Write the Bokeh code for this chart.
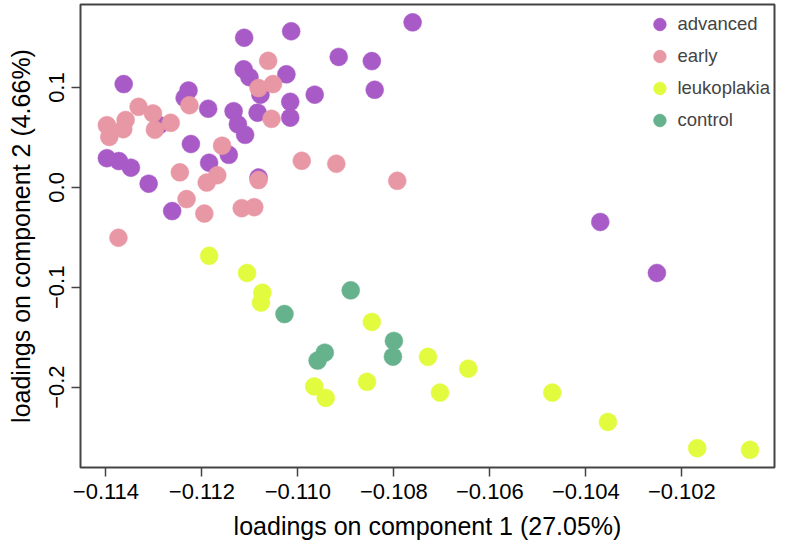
from bokeh.plotting import figure
from bokeh.models import ColumnDataSource, FixedTicker, Legend, LegendItem, Range1d
from bokeh.embed import file_html
from bokeh.resources import INLINE

# ---- data ----
adv_x = [-0.11112, -0.11014, -0.11363, -0.11228, -0.11236, -0.11187, -0.11113, -0.11101,
         -0.11078, -0.11024, -0.10915, -0.10846, -0.10840, -0.10965, -0.11016, -0.11016,
         -0.11134, -0.11084, -0.11125, -0.11110, -0.11223, -0.11144, -0.11185, -0.11398,
         -0.11373, -0.11348, -0.11311, -0.11262, -0.11082, -0.11289, -0.10761, -0.10370,
         -0.10252]
adv_y = [0.1499, 0.1564, 0.1035, 0.0971, 0.0896, 0.0788, 0.1183, 0.1104,
         0.0929, 0.1133, 0.1307, 0.1265, 0.0978, 0.0929, 0.0857, 0.0699,
         0.0764, 0.0748, 0.0632, 0.0527, 0.0435, 0.0326, 0.0247, 0.0293,
         0.0264, 0.0198, 0.0037, -0.0237, 0.0099, 0.0623, 0.1653, -0.0346,
         -0.0857]

early_x = [-0.11062, -0.11082, -0.11052, -0.11055, -0.11226, -0.11332, -0.11302, -0.11265,
           -0.11298, -0.11398, -0.11359, -0.11364, -0.11393, -0.11158, -0.10992, -0.10920,
           -0.11246, -0.11190, -0.11168, -0.11082, -0.11232, -0.11195, -0.11117, -0.11091,
           -0.11374, -0.10793]
early_y = [0.1268, 0.0995, 0.1035, 0.0687, 0.0823, 0.0807, 0.0741, 0.0647,
           0.0578, 0.0623, 0.0675, 0.0583, 0.0506, 0.0418, 0.0267, 0.0237,
           0.0151, 0.0049, 0.0122, 0.0074, -0.0117, -0.0262, -0.0208, -0.0198,
           -0.0504, 0.0066]

leuko_x = [-0.11185, -0.11106, -0.11074, -0.11077, -0.10846, -0.10966, -0.10942, -0.10856,
           -0.10729, -0.10645, -0.10704, -0.10470, -0.10354, -0.10168, -0.10058]
leuko_y = [-0.0685, -0.0857, -0.1054, -0.1153, -0.1347, -0.1993, -0.2108, -0.1947,
           -0.1697, -0.1815, -0.2055, -0.2055, -0.2349, -0.2612, -0.2628]

ctrl_x = [-0.10890, -0.11028, -0.10944, -0.10959, -0.10800, -0.10802]
ctrl_y = [-0.1031, -0.1268, -0.1655, -0.1734, -0.1537, -0.1695]

groups = ["advanced", "early", "leukoplakia", "control"]
colors = ["#A85BC6", "#E897A4", "#E2FB3F", "#66B28D"]

x_ticks = [-0.114, -0.112, -0.110, -0.108, -0.106, -0.104, -0.102]
x_tick_labels = ["\u22120.114", "\u22120.112", "\u22120.110", "\u22120.108",
                 "\u22120.106", "\u22120.104", "\u22120.102"]
y_ticks = [-0.2, -0.1, 0.0, 0.1]
y_tick_labels = ["\u22120.2", "\u22120.1", "0.0", "0.1"]

x_label = "loadings on component 1 (27.05%)"
y_label = "loadings on component 2 (4.66%)"

FONT = "Liberation Sans"

p = figure(output_backend="svg", toolbar_location=None,
           width=776, height=542,
           min_border_left=80, min_border_right=2,
           min_border_top=4, min_border_bottom=74,
           x_range=Range1d(-0.11453, -0.10007),
           y_range=Range1d(-0.2805, 0.1832))

p.xgrid.visible = False
p.ygrid.visible = False
p.outline_line_color = "#444444"
p.outline_line_width = 2
p.background_fill_color = "white"
p.border_fill_color = "white"

series = [(adv_x, adv_y), (early_x, early_y), (leuko_x, leuko_y), (ctrl_x, ctrl_y)]
renderers = []
for (xs, ys), c in zip(series, colors):
    src = ColumnDataSource(dict(x=xs, y=ys))
    r = p.scatter("x", "y", source=src, size=18, fill_color=c, line_color=c,
                  line_width=0.5, marker="circle")
    renderers.append(r)

for ax in (p.xaxis[0], p.yaxis[0]):
    ax.axis_line_color = None
    ax.major_tick_in = 0
    ax.major_tick_out = 9
    ax.major_tick_line_color = "#444444"
    ax.major_tick_line_width = 1.5
    ax.minor_tick_line_color = None
    ax.major_label_text_font = FONT
    ax.major_label_text_font_size = "22px"
    ax.major_label_text_color = "black"
    ax.axis_label_text_font = FONT
    ax.axis_label_text_font_size = "25px"
    ax.axis_label_text_font_style = "normal"
    ax.axis_label_text_color = "black"

p.xaxis[0].ticker = FixedTicker(ticks=x_ticks)
p.yaxis[0].ticker = FixedTicker(ticks=y_ticks)
p.xaxis[0].major_label_overrides = dict(zip(x_ticks, x_tick_labels))
p.yaxis[0].major_label_overrides = dict(zip(y_ticks, y_tick_labels))
p.yaxis[0].major_label_orientation = "vertical"
p.xaxis[0].axis_label = x_label
p.yaxis[0].axis_label = y_label
p.xaxis[0].major_label_standoff = 7
p.yaxis[0].major_label_standoff = 7
p.xaxis[0].axis_label_standoff = 10
p.yaxis[0].axis_label_standoff = 12

legend = Legend(items=[LegendItem(label=g, renderers=[r]) for g, r in zip(groups, renderers)],
                location="top_right", glyph_width=32, glyph_height=32, spacing=-9,
                label_standoff=2, padding=0, margin=4,
                label_text_font=FONT, label_text_font_size="18.5px",
                border_line_color=None, background_fill_alpha=0)
p.add_layout(legend)

open("out.html", "w").write(file_html(p, INLINE))
